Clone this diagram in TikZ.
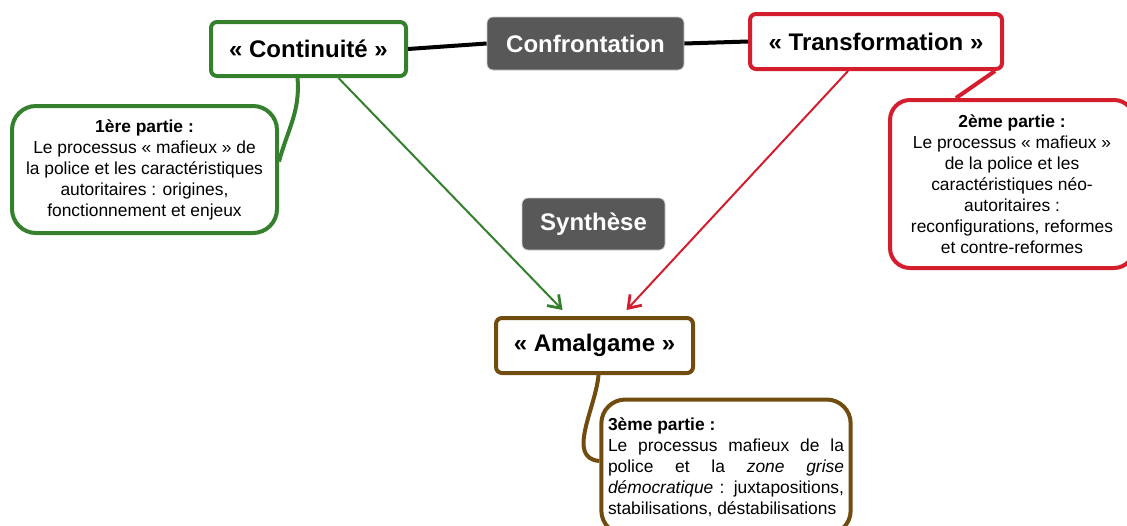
\documentclass[tikz,border=0pt]{standalone}
\usepackage{fontspec}
\setmainfont{Liberation Sans}
\usetikzlibrary{arrows.meta}
\definecolor{partgreen}{RGB}{52,128,44}
\definecolor{partred}{RGB}{212,30,45}
\definecolor{partbrown}{RGB}{112,76,14}
\definecolor{labelgrey}{RGB}{88,88,88}
\tikzset{
theme/.style = { rectangle, draw = #1, line width = 2pt, fill = white, rounded corners = 3pt, font = \fontsize{12}{14}\selectfont\bfseries },
label box/.style = { rectangle, draw = black!20, line width = 0.4pt, fill = labelgrey, text = white, rounded corners = 3pt, font = \fontsize{12}{14}\selectfont\bfseries },
part/.style = { rectangle, draw = #1, line width = 2pt, fill = white, rounded corners = 10pt, font = \fontsize{8.7}{10.5}\selectfont, align = center },
link/.style = { draw = #1, line width = 1pt, -{Straight Barb[angle = 70:7pt, line width = 1.4pt]} },
stem/.style = { draw = #1, line width = 2pt },
}

\begin{document}
\begin{tikzpicture}[x = 0.5pt, y = 0.5pt]
  \clip (0, 0) rectangle (1127, -525);
  % top row
  \node[theme = partgreen, minimum width = 97.5pt, minimum height = 27pt] (cont) at (308.5, -49) {« Continuité »};
  \node[label box, minimum width = 98.5pt, minimum height = 26.5pt] (confr) at (585.5, -43.5) {Confrontation};
  \node[theme = partred, minimum width = 126pt, minimum height = 27.5pt] (trans) at (876, -41.5) {« Transformation »};
  % middle
  \node[label box, minimum width = 71.5pt, minimum height = 26pt] (synth) at (593.5, -224) {Synthèse};
  \node[theme = partbrown, minimum width = 98.5pt, minimum height = 27.5pt] (amal) at (594.5, -345.5) {« Amalgame »};
  % parts
  \node[part = partgreen, minimum width = 132.5pt, minimum height = 63.5pt, rounded corners = 12pt] (part1) at (144.5, -169.5)
    {\textbf{1ère partie :}\\ Le processus « mafieux » de\\ la police et les caractéristiques\\ autoritaires : origines,\\ fonctionnement et enjeux};
  \node[part = partred, minimum width = 122pt, minimum height = 84pt] (part2) at (1012, -184)
    {\textbf{2ème partie :}\\ Le processus « mafieux »\\ de la police et les\\ caractéristiques néo-\\ autoritaires :\\ reconfigurations, reformes\\ et contre-reformes};
  \node[part = partbrown, align = justify, text width = 118pt, minimum height = 67.5pt, rounded corners = 12pt] (part3) at (726, -467)
    {\textbf{3ème partie :}\\ Le processus mafieux de la\linebreak police et la \textit{zone grise}\linebreak \textit{démocratique} : juxtapositions,\linebreak stabilisations, déstabilisations};
  % connectors
  \draw[line width = 2pt] (cont.east) -- (confr.west);
  \draw[line width = 2pt] (confr.east) -- (trans.west);
  \draw[stem = partgreen] ([xshift = -5.5pt]cont.south) to[out = -85, in = 75] ([yshift = 4pt]part1.east);
  \draw[stem = partred] ([xshift = -4.5pt]trans.south east) -- ([xshift = 34pt]part2.north west);
  \draw[stem = partbrown] ([xshift = 2pt]amal.south) to[out = -95, in = 175] ([yshift = 3pt]part3.west);
  \draw[link = partgreen] ([xshift = 15pt]cont.south) -- ([xshift = -16pt, yshift = 3pt]amal.north);
  \draw[link = partred] ([xshift = -14pt]trans.south) -- ([xshift = 16pt, yshift = 3pt]amal.north);
\end{tikzpicture}
\end{document}
